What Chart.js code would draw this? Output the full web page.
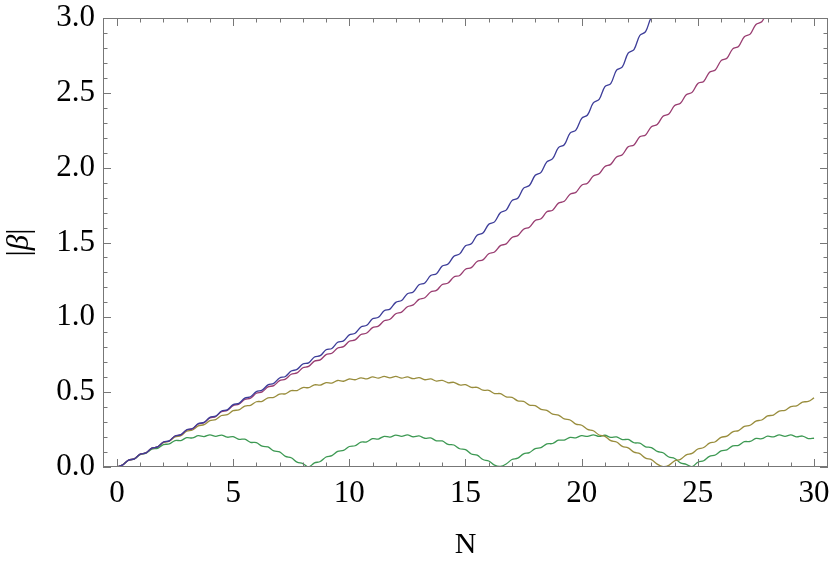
<!DOCTYPE html>
<html>
<head>
<meta charset="utf-8">
<title>|β| vs N</title>
<script src="https://cdn.jsdelivr.net/npm/chart.js@4.4.0/dist/chart.umd.min.js"></script>
<style>
  html, body { margin: 0; padding: 0; background: #fff; }
  canvas { display: block; }
</style>
</head>
<body>
<canvas id="betaChart" width="830" height="562"></canvas>
<script>
// N sample grid (step 0.25)
const N = [0,0.25,0.5,0.75,1,1.25,1.5,1.75,2,2.25,2.5,2.75,3,3.25,3.5,3.75,4,4.25,4.5,4.75,
  5,5.25,5.5,5.75,6,6.25,6.5,6.75,7,7.25,7.5,7.75,8,8.25,8.5,8.75,9,9.25,9.5,9.75,
  10,10.25,10.5,10.75,11,11.25,11.5,11.75,12,12.25,12.5,12.75,13,13.25,13.5,13.75,14,14.25,14.5,14.75,
  15,15.25,15.5,15.75,16,16.25,16.5,16.75,17,17.25,17.5,17.75,18,18.25,18.5,18.75,19,19.25,19.5,19.75,
  20,20.25,20.5,20.75,21,21.25,21.5,21.75,22,22.25,22.5,22.75,23,23.25,23.5,23.75,24,24.25,24.5,24.75,
  25,25.25,25.5,25.75,26,26.25,26.5,26.75,27,27.25,27.5,27.75,28,28.25,28.5,28.75,29,29.25,29.5,29.75,30];

// |beta|, one value per N above
const blueBeta = [0,0.014,0.046,0.054,0.086,0.094,0.126,0.134,0.167,0.175,
  0.207,0.216,0.248,0.257,0.290,0.298,0.332,0.340,0.374,0.382,
  0.417,0.425,0.460,0.469,0.504,0.514,0.549,0.559,0.595,0.605,
  0.641,0.652,0.688,0.696,0.735,0.744,0.783,0.792,0.833,0.843,
  0.883,0.894,0.936,0.947,0.990,1.000,1.044,1.055,1.100,1.112,
  1.158,1.170,1.218,1.230,1.279,1.292,1.343,1.356,1.408,1.424,
  1.478,1.491,1.549,1.563,1.622,1.638,1.699,1.716,1.780,1.796,
  1.863,1.881,1.949,1.969,2.039,2.060,2.134,2.153,2.231,2.251,
  2.330,2.352,2.433,2.456,2.542,2.562,2.651,2.673,2.765,2.789,
  2.883,2.909,3.005,3.034,3.131];

const magentaBeta = [0,0.014,0.046,0.054,0.086,0.094,0.126,0.134,0.166,0.174,
  0.207,0.215,0.247,0.255,0.287,0.296,0.328,0.337,0.369,0.378,
  0.410,0.419,0.451,0.460,0.493,0.502,0.535,0.544,0.577,0.587,
  0.620,0.629,0.663,0.672,0.707,0.716,0.751,0.760,0.795,0.804,
  0.840,0.849,0.885,0.895,0.931,0.941,0.977,0.987,1.024,1.035,
  1.071,1.083,1.120,1.131,1.169,1.180,1.219,1.229,1.270,1.280,
  1.321,1.332,1.373,1.384,1.425,1.437,1.479,1.491,1.534,1.546,
  1.589,1.602,1.647,1.658,1.705,1.716,1.763,1.775,1.823,1.835,
  1.883,1.896,1.945,1.959,2.008,2.022,2.072,2.087,2.139,2.152,
  2.206,2.219,2.274,2.288,2.344,2.358,2.415,2.430,2.487,2.503,
  2.563,2.576,2.638,2.653,2.715,2.731,2.794,2.810,2.875,2.892,
  2.957,2.975,3.041,3.060];

const oliveBeta = [0,0.015,0.045,0.055,0.085,0.095,0.124,0.134,0.163,0.172,
  0.201,0.210,0.239,0.247,0.275,0.283,0.310,0.317,0.344,0.350,
  0.376,0.382,0.407,0.412,0.436,0.439,0.462,0.465,0.487,0.489,
  0.510,0.511,0.531,0.530,0.549,0.547,0.564,0.561,0.578,0.573,
  0.588,0.583,0.596,0.589,0.602,0.594,0.605,0.595,0.605,0.594,
  0.602,0.590,0.597,0.583,0.589,0.574,0.579,0.563,0.566,0.548,
  0.550,0.532,0.532,0.513,0.512,0.491,0.490,0.468,0.465,0.442,
  0.438,0.414,0.410,0.385,0.379,0.353,0.347,0.321,0.314,0.286,
  0.279,0.251,0.242,0.214,0.205,0.176,0.167,0.138,0.128,0.099,
  0.089,0.059,0.049,0.019,0.003,0.011,0.041,0.051,0.081,0.091,
  0.120,0.130,0.159,0.169,0.198,0.206,0.235,0.243,0.271,0.279,
  0.307,0.314,0.341,0.347,0.373,0.379,0.404,0.409,0.434,0.438,
  0.462];

const greenBeta = [0,0.015,0.045,0.054,0.083,0.092,0.119,0.125,0.150,0.154,
  0.177,0.177,0.196,0.194,0.209,0.203,0.215,0.205,0.213,0.199,
  0.203,0.185,0.186,0.165,0.163,0.139,0.134,0.108,0.101,0.071,
  0.062,0.033,0.023,0.001,0.027,0.037,0.067,0.076,0.104,0.111,
  0.137,0.142,0.166,0.168,0.189,0.187,0.205,0.200,0.213,0.205,
  0.215,0.202,0.208,0.192,0.194,0.175,0.174,0.151,0.147,0.122,
  0.116,0.087,0.079,0.050,0.040,0.012,0.004,0.020,0.050,0.059,
  0.088,0.096,0.123,0.129,0.154,0.157,0.179,0.180,0.198,0.195,
  0.210,0.204,0.215,0.204,0.212,0.198,0.201,0.183,0.184,0.162,
  0.159,0.135,0.130,0.104,0.095,0.067,0.057,0.028,0.018,0.002,
  0.032,0.042,0.071,0.080,0.108,0.115,0.141,0.145,0.169,0.171,
  0.191,0.189,0.206,0.201,0.214,0.205,0.214,0.201,0.207,0.190,
  0.192];

const xTicks = [0, 5, 10, 15, 20, 25, 30];
const yTicks = [0, 0.5, 1, 1.5, 2, 2.5, 3];

const serif = "'Liberation Serif', 'DejaVu Serif', serif";
const frameColor = '#777777';

function pts(ys) {
  return ys.map((y, i) => ({ x: N[i], y: y }));
}

// Mathematica-like frame: box + inward ticks on all four sides, and the |β| label
const framePlugin = {
  id: 'frame',
  afterDraw(chart) {
    const { ctx, chartArea: a } = chart;
    const sx = chart.scales.x, sy = chart.scales.y;
    ctx.save();
    ctx.strokeStyle = frameColor;
    ctx.lineWidth = 1;
    ctx.strokeRect(a.left + 0.5, a.top + 0.5, a.right - a.left - 1, a.bottom - a.top - 1);

    ctx.beginPath();
    for (let i = 0; i <= 30; i++) {
      const px = Math.round(sx.getPixelForValue(i)) + 0.5;
      const len = i % 5 === 0 ? 8 : 4.5;
      ctx.moveTo(px, a.bottom); ctx.lineTo(px, a.bottom - len);
      ctx.moveTo(px, a.top); ctx.lineTo(px, a.top + len);
    }
    for (let i = 0; i <= 30; i++) {
      const py = Math.round(sy.getPixelForValue(i / 10)) + 0.5;
      const len = i % 5 === 0 ? 8 : 4.5;
      ctx.moveTo(a.left, py); ctx.lineTo(a.left + len, py);
      ctx.moveTo(a.right, py); ctx.lineTo(a.right - len, py);
    }
    ctx.stroke();

    // y axis label: |β| with italic beta, rotated
    const cy = (a.top + a.bottom) / 2;
    ctx.translate(20, cy);
    ctx.rotate(-Math.PI / 2);
    ctx.fillStyle = '#000';
    ctx.textBaseline = 'middle';
    ctx.textAlign = 'left';
    const upright = '31px ' + serif, italic = 'italic 31px ' + serif;
    ctx.font = upright; const wBar = ctx.measureText('|').width;
    ctx.font = italic; const wBeta = ctx.measureText('β').width;
    let x0 = -(2 * wBar + wBeta) / 2;
    ctx.font = upright; ctx.fillText('|', x0, 0);
    ctx.font = italic; ctx.fillText('β', x0 + wBar, 0);
    ctx.font = upright; ctx.fillText('|', x0 + wBar + wBeta, 0);
    ctx.restore();
  }
};

new Chart(document.getElementById('betaChart'), {
  type: 'line',
  data: {
    datasets: [
      { label: 'blue', data: pts(blueBeta), borderColor: '#3d3d99' },
      { label: 'magenta', data: pts(magentaBeta), borderColor: '#993d71' },
      { label: 'olive', data: pts(oliveBeta), borderColor: '#998d3d' },
      { label: 'green', data: pts(greenBeta), borderColor: '#3d9953' }
    ]
  },
  options: {
    responsive: false,
    animation: false,
    devicePixelRatio: 1,
    layout: { padding: { left: 0, top: 18, right: 2, bottom: 0 } },
    elements: {
      point: { radius: 0 },
      line: { borderWidth: 1.3, tension: 0.35, fill: false }
    },
    plugins: { legend: { display: false }, tooltip: { enabled: false } },
    scales: {
      x: {
        type: 'linear',
        min: -0.6,
        max: 30.6,
        grid: { display: false, drawTicks: false },
        border: { display: false },
        afterBuildTicks: s => { s.ticks = xTicks.map(v => ({ value: v })); },
        afterFit: s => { s.height = 95; s.paddingLeft = 0; s.paddingRight = 0; },
        ticks: { color: '#000', padding: 8, maxRotation: 0, autoSkip: false,
                 font: { family: serif, size: 31 } },
        title: { display: true, text: 'N', color: '#000', padding: 0,
                 font: { family: serif, size: 30, lineHeight: 1.1 } }
      },
      y: {
        min: 0,
        max: 3,
        grid: { display: false, drawTicks: false },
        border: { display: false },
        afterBuildTicks: s => { s.ticks = yTicks.map(v => ({ value: v })); },
        afterFit: s => { s.width = 103; s.paddingTop = 0; s.paddingBottom = 0; },
        ticks: { color: '#000', padding: 8, font: { family: serif, size: 31 },
                 callback: v => v.toFixed(1) }
      }
    }
  },
  plugins: [framePlugin]
});
</script>
</body>
</html>
